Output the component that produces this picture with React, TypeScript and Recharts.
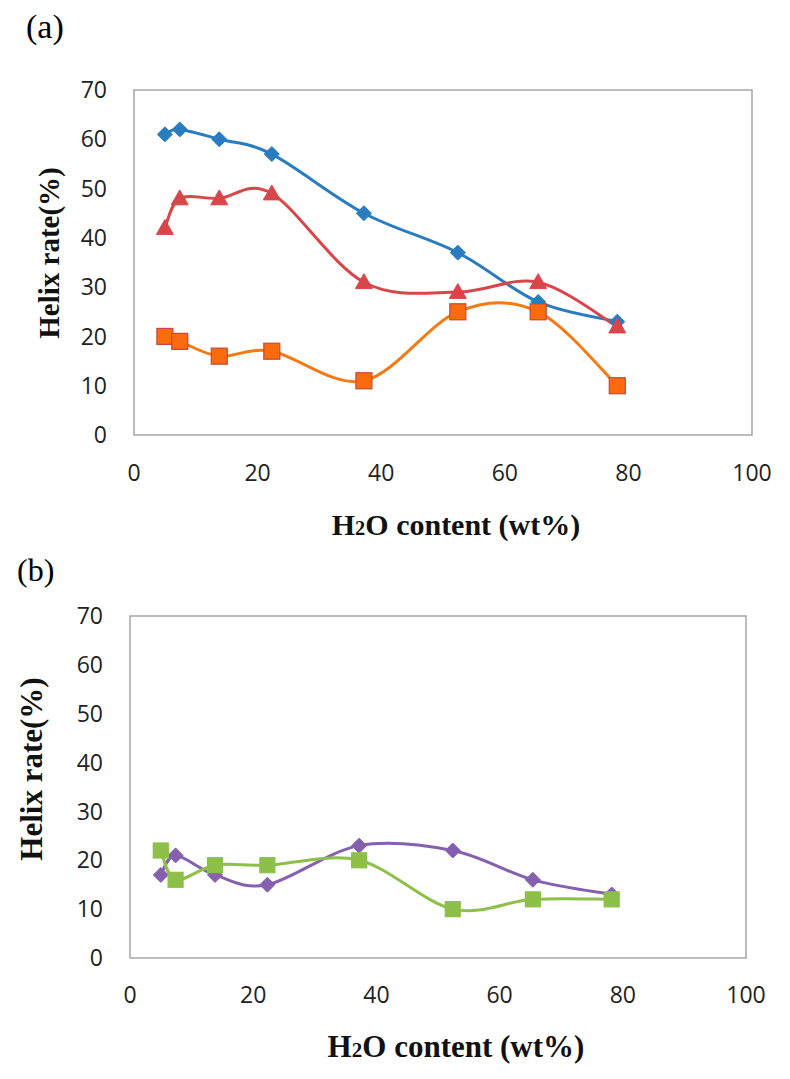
import React from "react"
import { LineChart, Line, XAxis, YAxis, ReferenceArea } from "recharts"

// H2O content (wt%) for each sample
const h2o = [5, 7.4, 13.8, 22.3, 37.2, 52.4, 65.4, 78.2]

// panel (a)
const blueA = [61, 62, 60, 57, 45, 37, 27, 23]
const redA = [42, 48, 48, 49, 31, 29, 31, 22]
const orangeA = [20, 19, 16, 17, 11, 25, 25, 10]

// panel (b)
const purpleB = [17, 21, 17, 15, 23, 22, 16, 13]
const greenB = [22, 16, 19, 19, 20, 10, 12, 12]

const xTicks = [0, 20, 40, 60, 80, 100]
const yTicks = [0, 10, 20, 30, 40, 50, 60, 70]

const dataA = h2o.map((x, i) => ({ x, blue: blueA[i], red: redA[i], orange: orangeA[i] }))
const dataB = h2o.map((x, i) => ({ x, purple: purpleB[i], green: greenB[i] }))

// Excel-like smoothed line (Catmull-Rom as cubic beziers)
const excelSmooth = (context: any) => {
  let pts: number[][] = []
  return {
    areaStart() {},
    areaEnd() {},
    lineStart() {
      pts = []
    },
    point(x: number, y: number) {
      pts.push([x, y])
    },
    lineEnd() {
      if (!pts.length) return
      context.moveTo(pts[0][0], pts[0][1])
      for (let i = 0; i < pts.length - 1; i++) {
        const p0 = pts[Math.max(i - 1, 0)]
        const p1 = pts[i]
        const p2 = pts[i + 1]
        const p3 = pts[Math.min(i + 2, pts.length - 1)]
        context.bezierCurveTo(
          p1[0] + (p2[0] - p0[0]) / 6,
          p1[1] + (p2[1] - p0[1]) / 6,
          p2[0] - (p3[0] - p1[0]) / 6,
          p2[1] - (p3[1] - p1[1]) / 6,
          p2[0],
          p2[1]
        )
      }
    },
  }
}

const diamond = (fill: string, r: number) => (p: any) => (
  <path
    key={`d-${p.index}`}
    d={`M${p.cx},${p.cy - r}L${p.cx + r},${p.cy}L${p.cx},${p.cy + r}L${p.cx - r},${p.cy}Z`}
    fill={fill}
    stroke={fill}
    strokeWidth={1}
  />
)

const square = (fill: string, stroke: string, r: number) => (p: any) => (
  <rect
    key={`s-${p.index}`}
    x={p.cx - r}
    y={p.cy - r}
    width={r * 2}
    height={r * 2}
    fill={fill}
    stroke={stroke}
    strokeWidth={1.2}
  />
)

const triangle = (fill: string, r: number) => (p: any) => (
  <path
    key={`t-${p.index}`}
    d={`M${p.cx},${p.cy - r}L${p.cx + r},${p.cy + r * 0.75}L${p.cx - r},${p.cy + r * 0.75}Z`}
    fill={fill}
    stroke={fill}
    strokeWidth={1}
  />
)

const serif = "'Liberation Serif', 'DejaVu Serif', serif"
const tickFont = { fontSize: 23, fill: "#222", fontFamily: "'Open Sans', sans-serif" }

function XTitle({ top, left, size }: { top: number; left: number; size: number }) {
  return (
    <div
      style={{
        position: "absolute",
        top,
        left,
        width: 0,
        whiteSpace: "nowrap",
        fontFamily: serif,
        fontWeight: "bold",
        fontSize: size,
        color: "#111",
      }}
    >
      <div style={{ transform: "translateX(-50%)", display: "inline-block" }}>
        H<span style={{ fontSize: size * 0.68 }}>2</span>O content (wt%)
      </div>
    </div>
  )
}

function YTitle({ top, left, size }: { top: number; left: number; size: number }) {
  return (
    <div
      style={{
        position: "absolute",
        top,
        left,
        width: 0,
        height: 0,
        whiteSpace: "nowrap",
        fontFamily: serif,
        fontWeight: "bold",
        fontSize: size,
        color: "#111",
      }}
    >
      <div
        style={{
          display: "inline-block",
          transform: "translate(-50%, -50%) rotate(-90deg)",
          lineHeight: `${size + 2}px`,
        }}
      >
        Helix rate(%)
      </div>
    </div>
  )
}

export default function App() {
  return (
    <div style={{ position: "absolute", left: 0, top: 0, width: 790, height: 1079, background: "#fff" }}>
      <div style={{ position: "absolute", left: 26, top: 8, fontFamily: serif, fontSize: 34, lineHeight: "38px" }}>(a)</div>
      <div style={{ position: "absolute", left: 0, top: 0 }}>
        <LineChart width={790} height={540} data={dataA} margin={{ top: 90, right: 38, bottom: 0, left: 0 }}>
          <XAxis
            dataKey="x"
            type="number"
            domain={[0, 100]}
            ticks={xTicks}
            axisLine={false}
            tickLine={false}
            tickSize={0}
            tickMargin={30}
            height={105}
            tick={tickFont}
          />
          <YAxis
            type="number"
            domain={[0, 70]}
            ticks={yTicks}
            axisLine={false}
            tickLine={false}
            tickSize={0}
            tickMargin={27}
            width={134}
            tick={tickFont}
          />
          <ReferenceArea x1={0} x2={100} y1={0} y2={70} fill="none" stroke="#a6a6a6" strokeWidth={1.5} />
          <Line
            dataKey="blue"
            type={excelSmooth as any}
            stroke="#2a7cc1"
            strokeWidth={3}
            dot={diamond("#2a7cc1", 7.5)}
            isAnimationActive={false}
          />
          <Line
            dataKey="red"
            type={excelSmooth as any}
            stroke="#d9464a"
            strokeWidth={3}
            dot={triangle("#d9464a", 8.5)}
            isAnimationActive={false}
          />
          <Line
            dataKey="orange"
            type={excelSmooth as any}
            stroke="#f57a14"
            strokeWidth={3}
            dot={square("#f96b0c", "#c8463a", 8)}
            isAnimationActive={false}
          />
        </LineChart>
      </div>
      <YTitle top={252} left={49} size={29} />
      <XTitle top={508} left={456} size={30} />

      <div style={{ position: "absolute", left: 17, top: 551, fontFamily: serif, fontSize: 32, lineHeight: "38px" }}>
        (b)
      </div>
      <div style={{ position: "absolute", left: 0, top: 520 }}>
        <LineChart width={790} height={559} data={dataB} margin={{ top: 96, right: 44, bottom: 0, left: 0 }}>
          <XAxis
            dataKey="x"
            type="number"
            domain={[0, 100]}
            ticks={xTicks}
            axisLine={false}
            tickLine={false}
            tickSize={0}
            tickMargin={29}
            height={121}
            tick={tickFont}
          />
          <YAxis
            type="number"
            domain={[0, 70]}
            ticks={yTicks}
            axisLine={false}
            tickLine={false}
            tickSize={0}
            tickMargin={27}
            width={130}
            tick={tickFont}
          />
          <ReferenceArea x1={0} x2={100} y1={0} y2={70} fill="none" stroke="#a6a6a6" strokeWidth={1.5} />
          <Line
            dataKey="purple"
            type={excelSmooth as any}
            stroke="#8560ae"
            strokeWidth={3}
            dot={diamond("#8560ae", 7.5)}
            isAnimationActive={false}
          />
          <Line
            dataKey="green"
            type={excelSmooth as any}
            stroke="#8dc048"
            strokeWidth={3}
            dot={square("#8dc048", "#8dc048", 7.5)}
            isAnimationActive={false}
          />
        </LineChart>
      </div>
      <YTitle top={768} left={31} size={31} />
      <XTitle top={1029} left={456} size={31} />
    </div>
  )
}
